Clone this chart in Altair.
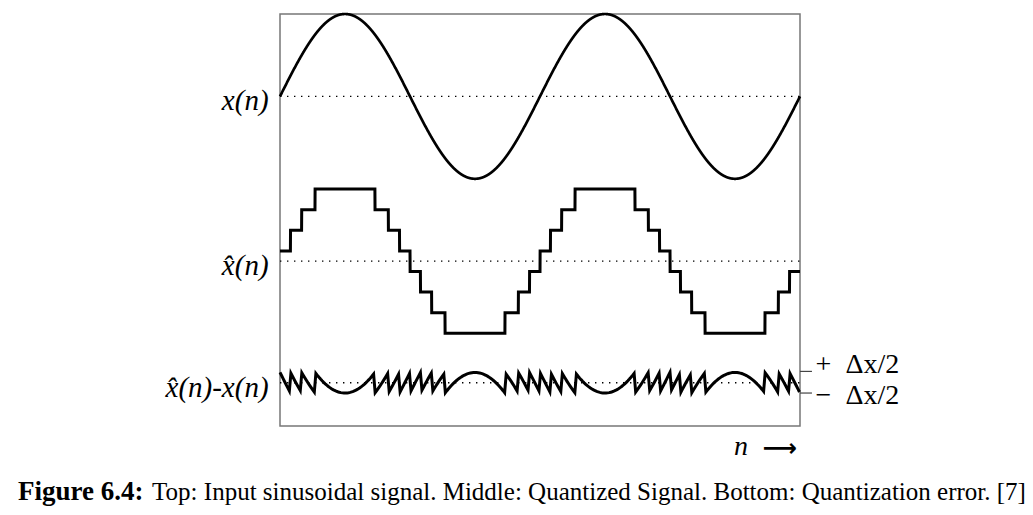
import numpy as np
import pandas as pd
import altair as alt

# ---- signal description (units of the quantization step Δx) ----
amplitude = [4.0]            # sine amplitude in Δx
period = [100.0]             # samples per period
n_range = [0.0, 200.0]       # two periods shown
offsets = {"x": 16.0, "xq": 8.0, "err": 2.1}   # vertical placement of the three traces
q_min, q_max = [-3.5], [3.5]  # quantizer saturation levels

left_labels = ["x(n)", "x\u0302(n)", "x\u0302(n)-x(n)"]
right_labels = ["+\u2002Δx/2", "−\u2002Δx/2"]
right_label_v = [2.95, 1.45]
tick_v = [2.65, 1.6]
caption_bold = ["Figure 6.4:"]
caption_rest = ["Top: Input sinusoidal signal. Middle: Quantized Signal. Bottom: Quantization error. [7]"]

A, P = amplitude[0], period[0]

def quant(s):
    return np.clip(np.floor(s) + 0.5, q_min[0], q_max[0])

n_f = np.linspace(n_range[0], n_range[1], 4001)
s_f = A * np.sin(2 * np.pi * n_f / P)
df_x = pd.DataFrame({"n": n_f, "v": offsets["x"] + s_f})
df_q = pd.DataFrame({"n": n_f, "v": offsets["xq"] + quant(s_f)})

n_e = np.arange(n_range[0], n_range[1] + 1e-9, 0.6)
s_e = A * np.sin(2 * np.pi * n_e / P)
df_e = pd.DataFrame({"n": n_e, "v": offsets["err"] + quant(s_e) - s_e})

xs = alt.Scale(domain=n_range, nice=False, zero=False)
ys = alt.Scale(domain=[0, 20], nice=False, zero=False)
X = alt.X("n:Q", scale=xs, axis=None)
Y = alt.Y("v:Q", scale=ys, axis=None)

line_x = alt.Chart(df_x).mark_line(color="black", strokeWidth=2.7).encode(x=X, y=Y)
line_q = alt.Chart(df_q).mark_line(color="black", strokeWidth=3, strokeJoin="miter").encode(x=X, y=Y)
line_e = alt.Chart(df_e).mark_line(color="black", strokeWidth=3).encode(x=X, y=Y)

df_dots = pd.DataFrame({"n": [n_range[0]] * 3, "n2": [n_range[1]] * 3,
                        "v": [offsets["x"], offsets["xq"], offsets["err"]]})
dots = alt.Chart(df_dots).mark_rule(color="black", strokeWidth=1.3, strokeDash=[1.4, 5.6]).encode(
    x=X, x2="n2:Q", y=Y)

df_ticks = pd.DataFrame({"n": [200.0, 200.0], "n2": [204.6, 204.6], "v": tick_v})
ticks = alt.Chart(df_ticks).mark_rule(color="#444", strokeWidth=1.2).encode(x=X, x2="n2:Q", y=Y)

df_ll = pd.DataFrame({"n": [-4.4] * 3, "v": [offsets["x"], offsets["xq"], offsets["err"]],
                      "t": left_labels})
ltext = alt.Chart(df_ll).mark_text(align="right", baseline="middle", dy=5, font="Liberation Serif",
                                   fontStyle="italic", fontSize=29, color="black").encode(
    x=X, y=Y, text="t:N")

df_rl = pd.DataFrame({"n": [206.0, 206.0], "v": right_label_v, "t": right_labels})
rtext = alt.Chart(df_rl).mark_text(align="left", baseline="middle", font="Liberation Serif",
                                   fontSize=28, color="black").encode(x=X, y=Y, text="t:N")

df_n = pd.DataFrame({"n": [177.3], "v": [-1.0], "t": ["n"]})
ntext = alt.Chart(df_n).mark_text(align="center", baseline="middle", font="Liberation Serif",
                                  fontStyle="italic", fontSize=28, color="black").encode(x=X, y=Y, text="t:N")
df_arrow = pd.DataFrame({"n": [192.3], "v": [-1.1], "t": ["⟶"]})
arrow = alt.Chart(df_arrow).mark_text(align="center", baseline="middle", font="DejaVu Sans",
                                      fontSize=24, fontWeight="bold", color="black").encode(x=X, y=Y, text="t:N")

df_cb = pd.DataFrame({"n": [-100.8], "v": [-3.2], "t": caption_bold})
cap_b = alt.Chart(df_cb).mark_text(align="left", baseline="middle", font="Liberation Serif",
                                   fontSize=27, fontWeight="bold", color="black").encode(x=X, y=Y, text="t:N")
df_cr = pd.DataFrame({"n": [-49.2], "v": [-3.2], "t": caption_rest})
cap_r = alt.Chart(df_cr).mark_text(align="left", baseline="middle", font="Liberation Serif",
                                   fontSize=25, color="black").encode(x=X, y=Y, text="t:N")

chart = alt.layer(dots, line_x, line_q, line_e, ticks, ltext, rtext, ntext, arrow, cap_b, cap_r).properties(
    width=520, height=412,
    autosize=alt.AutoSizeParams(type="none"),
    padding={"left": 272, "top": 6, "right": 225, "bottom": 80},
    background="white",
).configure_view(stroke="#777", strokeWidth=1.5)

chart.save("out.html", embed_options={"renderer": "svg", "actions": False})
